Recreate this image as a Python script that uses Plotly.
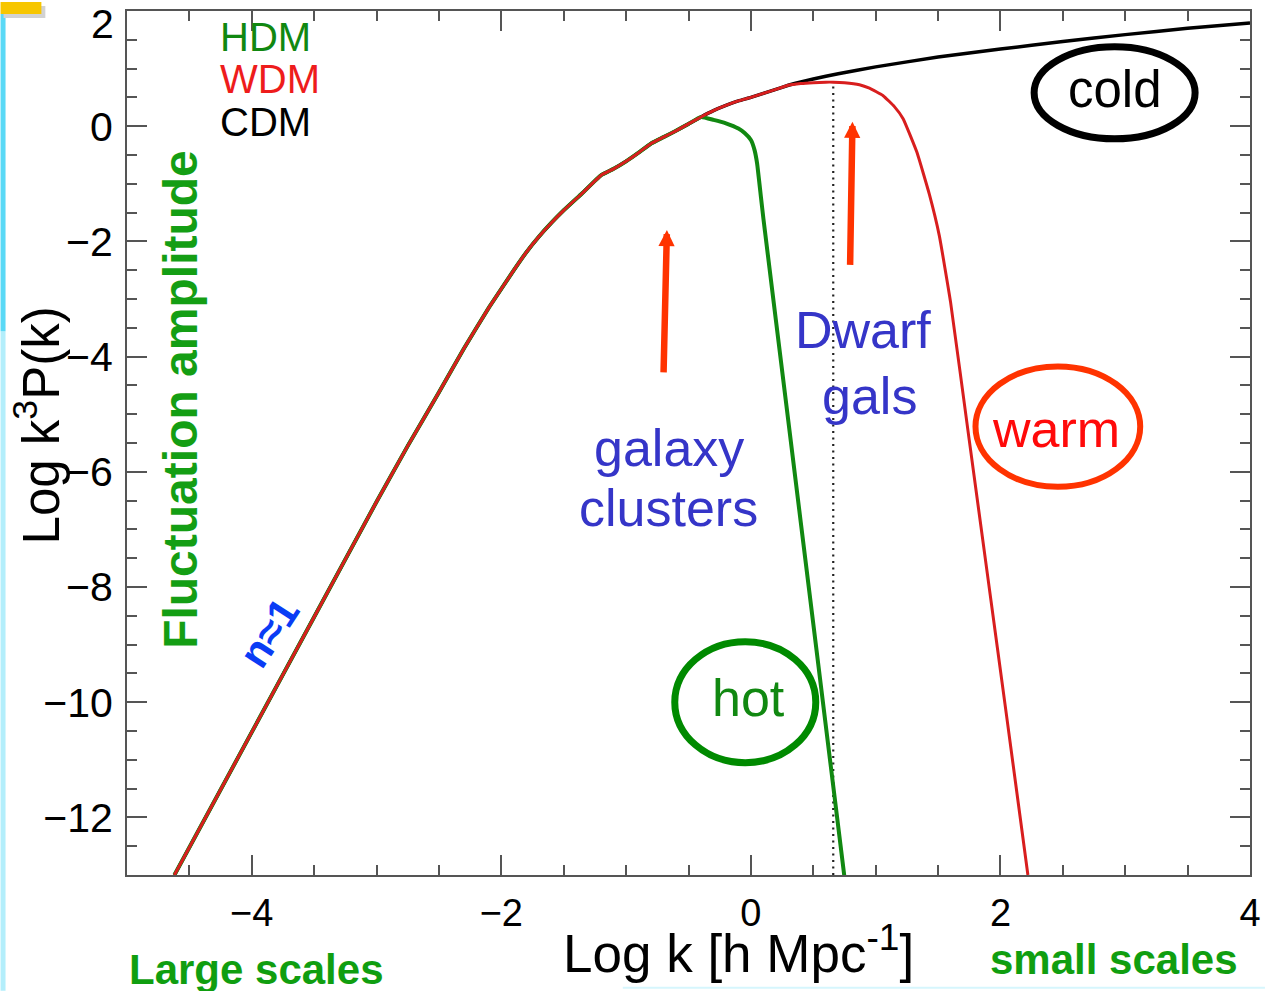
import plotly.graph_objects as go

# ---------------------------------------------------------------
# Power spectra  Log k^3 P(k)  versus  Log k  [h Mpc^-1]
# ---------------------------------------------------------------

# large-scale part, common to all three dark-matter models (n ~ 1 slope + turnover)
logk_shared = [-4.62, -4.0, -3.5, -3.0, -2.75, -2.5, -2.3, -2.1, -1.9, -1.8, -1.7, -1.6, -1.5,
               -1.35, -1.2, -1.1, -1.0, -0.9, -0.8, -0.7, -0.6, -0.5, -0.4]
lp_shared = [-13.0, -10.52, -8.52, -6.52, -5.55, -4.62, -3.86, -3.15, -2.50, -2.19, -1.92, -1.68, -1.46,
             -1.16, -0.85, -0.74, -0.61, -0.46, -0.30, -0.19, -0.08, 0.04, 0.16]

# CDM and WDM still agree up to here
logk_cw = [-0.3, -0.2, -0.1, 0.0, 0.1, 0.2, 0.3]
lp_cw = [0.27, 0.36, 0.44, 0.50, 0.57, 0.64, 0.71]

# cold dark matter keeps rising
logk_cdm_tail = [0.4, 0.5, 0.7, 1.0, 1.5, 2.0, 2.5, 3.0, 3.5, 4.0]
lp_cdm_tail = [0.77, 0.82, 0.91, 1.03, 1.20, 1.34, 1.47, 1.59, 1.70, 1.79]

# warm dark matter: cut-off at small scales
logk_wdm_tail = [0.4, 0.5, 0.6, 0.66, 0.75, 0.87, 0.95, 1.06, 1.15, 1.22, 1.33,
                 1.43, 1.51, 1.6, 1.75, 1.9, 2.05, 2.22]
lp_wdm_tail = [0.74, 0.755, 0.765, 0.765, 0.755, 0.72, 0.66, 0.53, 0.34, 0.13, -0.45,
               -1.18, -1.90, -3.05, -5.45, -7.85, -10.25, -13.0]

# hot dark matter: free-streaming cut-off already near Log k ~ 0
logk_hdm_tail = [-0.3, -0.2, -0.1, -0.05, 0.0, 0.03, 0.05, 0.08, 0.1, 0.3, 0.5, 0.75]
lp_hdm_tail = [0.11, 0.05, -0.04, -0.12, -0.24, -0.42, -0.65, -1.22, -1.60, -5.12, -8.64, -13.04]

# half-mode scale of the WDM model (dotted marker)
wdm_cut_logk = 0.66
wdm_cut_lp = 0.72

# axes
x_range = [-5, 4]
y_range = [-13, 2]
x_tick_vals = [-4, -2, 0, 2, 4]
y_tick_vals = [-12, -10, -8, -6, -4, -2, 0, 2]

cdm_x = logk_shared + logk_cw + logk_cdm_tail
cdm_y = lp_shared + lp_cw + lp_cdm_tail
wdm_x = logk_shared + logk_cw + logk_wdm_tail
wdm_y = lp_shared + lp_cw + lp_wdm_tail
hdm_x = logk_shared + logk_hdm_tail
hdm_y = lp_shared + lp_hdm_tail

FONT = "Liberation Sans, Arial, Helvetica, sans-serif"
W, H = 1270, 991
ML, MR, MT, MB = 127, 15, 9, 116

RED = "#d81e1e"
GREEN = "#118811"
BLUE = "#3535c8"
ARROW = "#ff3300"
SMOOTH = 0.35


def px_x(px):
    """figure pixel column -> paper x"""
    return (px - ML) / (W - ML - MR)


def px_y(py):
    """figure pixel row -> paper y"""
    return (H - MB - py) / (H - MT - MB)


fig = go.Figure()

fig.add_trace(go.Scatter(x=cdm_x, y=cdm_y, mode="lines", name="CDM",
                         line=dict(color="black", width=3.5, shape="spline", smoothing=SMOOTH)))
fig.add_trace(go.Scatter(x=[wdm_cut_logk, wdm_cut_logk], y=[y_range[0], wdm_cut_lp],
                         mode="lines", name="cut-off",
                         line=dict(color="#222222", width=2.2, dash="2px,4.5px")))
fig.add_trace(go.Scatter(x=hdm_x, y=hdm_y, mode="lines", name="HDM",
                         line=dict(color=GREEN, width=4, shape="spline", smoothing=SMOOTH)))
fig.add_trace(go.Scatter(x=wdm_x, y=wdm_y, mode="lines", name="WDM",
                         line=dict(color=RED, width=3, shape="spline", smoothing=SMOOTH)))

axis_common = dict(
    showline=True, linecolor="#555555", linewidth=2, mirror="ticks",
    ticks="inside", ticklen=20, tickwidth=1.8, tickcolor="#555555",
    showgrid=False, zeroline=False,
)
minor_ticks = dict(tickmode="linear", tick0=0, dtick=0.5, ticks="inside",
                   ticklen=10, tickwidth=1.5, tickcolor="#555555")

fig.update_xaxes(range=x_range, tickmode="array", tickvals=x_tick_vals,
                 minor=minor_ticks, ticklabelstandoff=3,
                 tickfont=dict(family=FONT, size=38, color="black"), **axis_common)

y_tick_text = ["\u2212%d" % abs(v) if v < 0 else str(v) for v in y_tick_vals]
top_label = y_tick_text[-1]
y_tick_text[-1] = ""
fig.update_yaxes(range=y_range, tickmode="array", tickvals=y_tick_vals, ticktext=y_tick_text,
                 minor=minor_ticks, ticklabelstandoff=4,
                 tickfont=dict(family=FONT, size=41, color="black"), **axis_common)

annotations = []


def txt(text, x, y, size, color, xref="x", yref="y", bold=False, angle=0,
        xanchor="center", yanchor="middle"):
    annotations.append(dict(
        text=("<b>%s</b>" % text) if bold else text, x=x, y=y, xref=xref, yref=yref,
        showarrow=False, textangle=angle, xanchor=xanchor, yanchor=yanchor,
        font=dict(family=FONT, size=size, color=color)))


# label for the top y tick, pulled down inside the frame
txt(top_label, px_x(116), px_y(22), 41, "black", xref="paper", yref="paper", xanchor="right")

# model key
txt("HDM", -4.27, 1.55, 40, GREEN, xanchor="left")
txt("WDM", -4.27, 0.82, 40, "#ee1c1c", xanchor="left")
txt("CDM", -4.27, 0.08, 40, "black", xanchor="left")

# axis titles
txt("Log k [h Mpc<sup>-1</sup>]", px_x(741), px_y(950), 53, "black", xref="paper", yref="paper")
txt("Log k<sup>3</sup>P(k)", px_x(37), px_y(424), 51, "black", xref="paper", yref="paper", angle=-90)
txt("Fluctuation amplitude", px_x(180), px_y(398), 48, "#149e14", xref="paper", yref="paper",
    bold=True, angle=-90)
txt("Large scales", px_x(257), px_y(970), 42, "#109e10", xref="paper", yref="paper", bold=True)
txt("small scales", px_x(1118), px_y(960), 42, "#109e10", xref="paper", yref="paper", bold=True)

# structure labels
txt("Dwarf", 0.90, -3.53, 52, BLUE)
txt("gals", 0.95, -4.69, 52, BLUE)
txt("galaxy", -0.66, -5.59, 52, BLUE)
txt("clusters", -0.66, -6.63, 52, BLUE)
txt("n\u22481", -3.86, -8.79, 42, "#0a3cf5", bold=True, angle=-57)

# circled model names
txt("cold", 2.915, 0.63, 51, "black")
txt("warm", 2.444, -5.26, 52, "#ff0a0a")
txt("hot", -0.022, -9.93, 52, GREEN)

# arrows pointing at the scales probed
for tip, tail in [((-0.673, -1.80), (-0.70, -4.30)), ((0.814, 0.078), (0.795, -2.434))]:
    annotations.append(dict(
        x=tip[0], y=tip[1], ax=tail[0], ay=tail[1], xref="x", yref="y", axref="x", ayref="y",
        text="", showarrow=True, arrowhead=2, arrowsize=0.5, arrowwidth=6.5, arrowcolor=ARROW))

shapes = [
    dict(type="circle", xref="x", yref="y", x0=2.27, x1=3.56, y0=-0.22, y1=1.38,
         line=dict(color="black", width=7)),
    dict(type="circle", xref="x", yref="y", x0=1.80, x1=3.12, y0=-4.17, y1=-6.26,
         line=dict(color=ARROW, width=6)),
    dict(type="circle", xref="x", yref="y", x0=-0.61, x1=0.52, y0=-8.95, y1=-11.05,
         line=dict(color="#008a00", width=7)),
    # slide decorations around the figure
    dict(type="rect", xref="paper", yref="paper", x0=px_x(0), x1=px_x(5), y0=px_y(991), y1=px_y(330),
         line=dict(width=0), fillcolor="#b3eefb", layer="above"),
    dict(type="rect", xref="paper", yref="paper", x0=px_x(0), x1=px_x(5), y0=px_y(330), y1=px_y(12),
         line=dict(width=0), fillcolor="#5ad9f6", layer="above"),
    dict(type="rect", xref="paper", yref="paper", x0=px_x(3), x1=px_x(45), y0=px_y(16), y1=px_y(4),
         line=dict(width=0), fillcolor="#d2d2d2", layer="above"),
    dict(type="rect", xref="paper", yref="paper", x0=px_x(0), x1=px_x(41), y0=px_y(12), y1=px_y(0),
         line=dict(width=0), fillcolor="#f7c600", layer="above"),
    dict(type="line", xref="paper", yref="paper", x0=px_x(625), x1=px_x(1270), y0=px_y(988), y1=px_y(988),
         line=dict(color="#d6f6fd", width=2), layer="above"),
]

fig.update_layout(
    width=W, height=H,
    margin=dict(l=ML, r=MR, t=MT, b=MB),
    paper_bgcolor="white", plot_bgcolor="white",
    showlegend=False,
    annotations=annotations,
    shapes=shapes,
    font=dict(family=FONT),
)

fig.write_html("out.html")
